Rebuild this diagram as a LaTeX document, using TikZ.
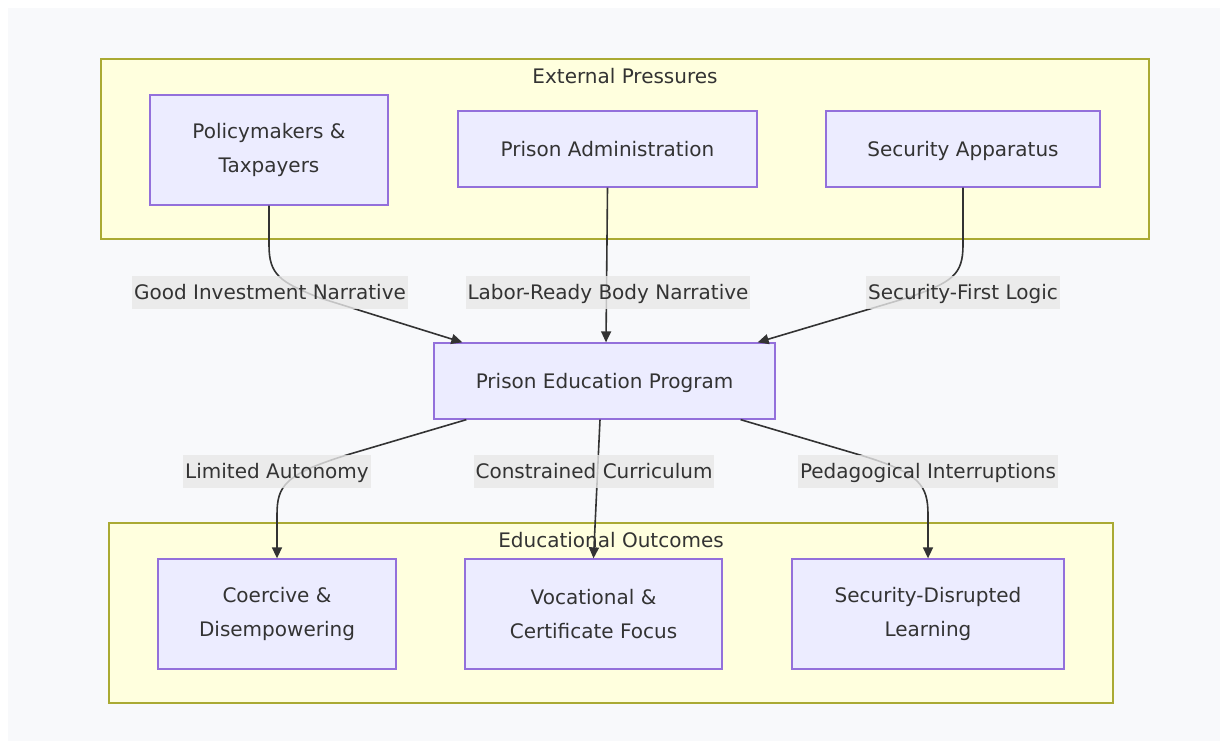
\documentclass[tikz,border=0pt]{standalone}
\usepackage{fontspec}
\setmainfont{DejaVu Sans}
\usepackage{xcolor}
\usepackage{tikz}
\usetikzlibrary{arrows.meta,positioning}

\definecolor{pagebg}{HTML}{F8F9FB}
\definecolor{groupfill}{HTML}{FFFFDE}
\definecolor{groupline}{HTML}{AAAA33}
\definecolor{boxfill}{HTML}{ECECFF}
\definecolor{boxline}{HTML}{9370DB}
\definecolor{ink}{HTML}{333333}
\definecolor{tagfill}{HTML}{E8E8E8}

\begin{document}
\begin{tikzpicture}[x=1pt, y=-1pt,
    txt/.style={text=ink, font=\fontsize{20}{34}\selectfont},
    oneline/.style={text height=17pt, text depth=1.6pt},
    box/.style={txt, draw=boxline, fill=boxfill, line width=1.3pt, align=center},
    group/.style={draw=groupline, fill=groupfill, line width=1.3pt},
    flow/.style={draw=ink, line width=1.6pt, -{Triangle[length=11pt,width=10pt]}},
    tag/.style={txt, oneline, fill=tagfill, fill opacity=0.8, text opacity=1, inner xsep=2pt, minimum height=33pt}]
    \useasboundingbox (0,0) rectangle (1220,743);
    \fill[white] (0,0) rectangle (1220,743);
    \fill[pagebg] (8,8) rectangle (1220,741);

    % External pressures
    \draw[group] (101,59) rectangle (1149,239);
    \node[txt, oneline] (extlabel) at (625,76) {External Pressures};
    \node[box, minimum width=238pt, minimum height=110pt] (pol) at (269,150) {Policymakers \&\\Taxpayers};
    \node[box, oneline, minimum width=299pt, minimum height=76pt] (adm) at (607.5,149) {Prison Administration};
    \node[box, oneline, minimum width=274pt, minimum height=76pt] (sec) at (963,149) {Security Apparatus};

    % Program in the middle
    \node[box, oneline, minimum width=341pt, minimum height=76pt] (pep) at (604.5,381) {Prison Education Program};

    % Educational outcomes
    \draw[group] (109,523) rectangle (1113,703);
    \node[txt, oneline] (outlabel) at (611,540) {Educational Outcomes};
    \node[box, minimum width=238pt, minimum height=110pt] (coe) at (277,614) {Coercive \&\\Disempowering};
    \node[box, minimum width=257pt, minimum height=110pt] (voc) at (593.5,614) {Vocational \&\\Certificate Focus};
    \node[box, minimum width=272pt, minimum height=110pt] (dis) at (928,614) {Security-Disrupted\\Learning};

    % Arrows into the program
    \draw[flow] (pol.south) -- (269,245) .. controls (269,275) and (280,282) .. (320,298) -- ([xshift=29pt]pep.north west);
    \draw[flow] (adm.south) -- ([xshift=1.5pt]pep.north);
    \draw[flow] (sec.south) -- (963,245) .. controls (963,275) and (952,282) .. (910,297) -- ([xshift=-18pt]pep.north east);

    % Arrows out of the program
    \draw[flow] ([xshift=33pt]pep.south west) -- (350,454) .. controls (285,474) and (277,485) .. (277,515) -- (coe.north);
    \draw[flow] ([xshift=-4.5pt]pep.south) -- (voc.north);
    \draw[flow] ([xshift=-35pt]pep.south east) -- (860,455) .. controls (920,473) and (928,485) .. (928,515) -- (dis.north);

    % Edge labels
    \node[tag] (t1) at (270,292) {Good Investment Narrative};
    \node[tag] (t2) at (608,292) {Labor-Ready Body Narrative};
    \node[tag] (t3) at (963,292) {Security-First Logic};
    \node[tag] (t4) at (277,471) {Limited Autonomy};
    \node[tag] (t5) at (594,471) {Constrained Curriculum};
    \node[tag] (t6) at (928,471) {Pedagogical Interruptions};
\end{tikzpicture}
\end{document}
